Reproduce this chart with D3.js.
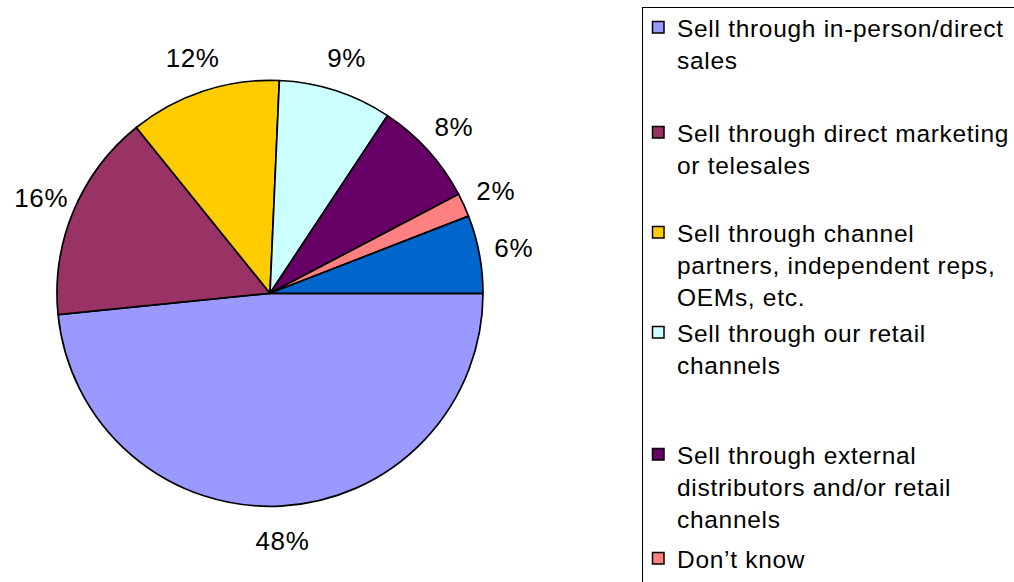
<!DOCTYPE html>
<html>
<head>
<meta charset="utf-8">
<script src="https://cdn.jsdelivr.net/npm/d3@7"></script>
<style>
  html, body { margin: 0; padding: 0; background: #ffffff; }
  svg { display: block; }
  text { font-family: "Liberation Sans", Arial, sans-serif; fill: #000; }
</style>
</head>
<body>
<svg id="chart" width="1014" height="582"></svg>
<script>
// ---- data ----
const categories = [
  "Sell through in-person/direct sales",
  "Sell through direct marketing or telesales",
  "Sell through channel partners, independent reps, OEMs, etc.",
  "Sell through our retail channels",
  "Sell through external distributors and/or retail channels",
  "Don’t know",
  ""
];
const values = [48.4, 15.8, 11.5, 8.6, 8.0, 1.8, 5.9];
const colors = ["#9999FF", "#993366", "#FFCC00", "#CCFFFF", "#660066", "#FF8080", "#0066CC"];
// legend text wrapped as in the original (only the visible entries)
const legendLines = [
  ["Sell through in-person/direct", "sales"],
  ["Sell through direct marketing", "or telesales"],
  ["Sell through channel", "partners, independent reps,", "OEMs, etc."],
  ["Sell through our retail", "channels"],
  ["Sell through external", "distributors and/or retail", "channels"],
  ["Don’t know"]
];

// ---- layout ----
const svg = d3.select("#chart");
const cx = 270, cy = 293.3, R = 213, labelR = 248;
const legendFirstBaselines = [37, 142, 242, 342, 464, 568];
const lineH = 32;

const pie = d3.pie().sort(null).value(d => d)
  .startAngle(Math.PI / 2).endAngle(Math.PI / 2 + 2 * Math.PI);
const arcs = pie(values);
const arc = d3.arc().innerRadius(0).outerRadius(R);
const labelArc = d3.arc().innerRadius(labelR).outerRadius(labelR);

const g = svg.append("g").attr("transform", `translate(${cx},${cy})`);
g.selectAll("path.slice").data(arcs).enter().append("path")
  .attr("class", "slice")
  .attr("d", arc)
  .attr("fill", (d, i) => colors[i])
  .attr("stroke", "#000")
  .attr("stroke-width", 1.7)
  .attr("stroke-linejoin", "round");

g.selectAll("text.lbl").data(arcs).enter().append("text")
  .attr("class", "lbl")
  .attr("transform", d => `translate(${labelArc.centroid(d)})`)
  .attr("text-anchor", "middle")
  .attr("dy", "0.36em")
  .style("font-size", "26px")
  .style("letter-spacing", "0.6px")
  .text(d => Math.round(d.data) + "%");

// ---- legend ----
const lg = svg.append("g");
lg.append("rect")
  .attr("x", 642.5).attr("y", 7.5).attr("width", 420).attr("height", 720)
  .attr("fill", "#fff").attr("stroke", "#000").attr("stroke-width", 1);

legendLines.forEach((lines, i) => {
  const y0 = legendFirstBaselines[i];
  lg.append("rect")
    .attr("x", 652.5).attr("y", y0 - 15.5).attr("width", 11.5).attr("height", 11.5)
    .attr("fill", colors[i]).attr("stroke", "#000").attr("stroke-width", 1.5);
  const t = lg.append("text").attr("x", 677).attr("y", y0)
    .style("font-size", "24.5px").style("letter-spacing", "0.7px");
  lines.forEach((ln, j) => {
    t.append("tspan").attr("x", 677).attr("y", y0 + j * lineH).text(ln);
  });
});
</script>
</body>
</html>
